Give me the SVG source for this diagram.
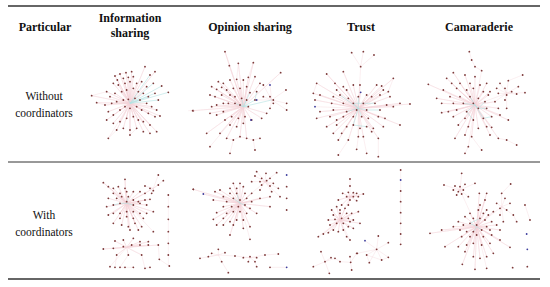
<svg xmlns="http://www.w3.org/2000/svg" width="550" height="287" viewBox="0 0 550 287">
<style>
.h{font-family:"Liberation Serif","DejaVu Serif",serif;font-weight:bold;font-size:12px;text-anchor:middle;fill:#111}
.r{font-family:"Liberation Serif","DejaVu Serif",serif;font-size:11.5px;text-anchor:middle;fill:#111}
.rule{stroke:#333;fill:none}
.pk{fill:none;stroke:#f3d2d9;stroke-width:1.1}
.cy{fill:none;stroke:#b3e2e2;stroke-width:1.8}
.fa{fill:none;stroke:#f4dde2;stroke-width:1.2}
.nd{fill:none;stroke:#7d3a3a;stroke-width:5.5;stroke-linecap:round}
.bl{fill:none;stroke:#3d3d9c;stroke-width:5.5;stroke-linecap:round}
</style>
<rect width="550" height="287" fill="#fff"/>
<g id="rules">
<line class="rule" x1="8" y1="6" x2="540" y2="6" stroke-width="1.5"/>
<line class="rule" x1="8" y1="162" x2="540" y2="162" stroke-width="1"/>
<line class="rule" x1="8" y1="279" x2="540" y2="279" stroke-width="1.5"/>
</g>
<g id="headers">
<text class="h" x="45" y="31">Particular</text>
<text class="h" x="130" y="22">Information</text>
<text class="h" x="130" y="36.5">sharing</text>
<text class="h" x="250" y="31">Opinion sharing</text>
<text class="h" x="361" y="31">Trust</text>
<text class="h" x="479" y="31">Camaraderie</text>
</g>
<g id="rowlabels">
<text class="r" x="44" y="100">Without</text>
<text class="r" x="44" y="117">coordinators</text>
<text class="r" x="44" y="219">With</text>
<text class="r" x="44" y="236">coordinators</text>
</g>

<g id="info-without" transform="translate(80,50) scale(0.3333)">
<path class="pk" d="M150 160L195 50L150 160L155 65L150 160L138 68L150 160L120 72L150 160L105 78L150 160L112 90L150 160L130 85L150 160L145 82L150 160L160 80L150 160L225 65L150 160L100 100L150 160L115 105L150 160L135 100L150 160L150 95L150 160L170 100L150 160L185 95L150 160L200 110L150 160L35 137L150 160L50 158L150 160L80 125L150 160L90 140L150 160L105 130L150 160L125 125L150 160L140 120L150 160L160 115L150 160L175 125L150 160L190 130L150 160L75 165L150 160L95 160L150 160L110 155L150 160L130 150L150 160L180 150L150 160L200 160L150 160L215 170L150 160L230 180L150 160L85 185L150 160L100 195L150 160L120 180L150 160L135 170L150 160L170 170L150 160L185 180L150 160L205 190L150 160L225 200L150 160L240 198L150 160L80 210L150 160L100 220L150 160L120 215L150 160L140 205L150 160L160 200L150 160L175 210L150 160L190 215L150 160L210 225L150 160L110 240L150 160L130 235L150 160L150 240L150 160L170 235L150 160L190 245L150 160L210 250L150 160L230 245L150 160L150 255L150 160L85 265M35 137L80 125M50 158L75 165M105 78L120 72L138 68M85 265L110 240M150 255L170 235M325 182L340 182"/>
<path class="cy" d="M150 160L245 108M150 160L265 127M150 160L225 130M150 160L235 150M150 160L220 100M150 160L210 75M150 160L205 140M150 160L165 145M150 160L145 148"/>
<path class="nd" d="M195 50h0M155 65h0M138 68h0M120 72h0M105 78h0M112 90h0M130 85h0M145 82h0M160 80h0M210 75h0M225 65h0M100 100h0M115 105h0M135 100h0M150 95h0M170 100h0M185 95h0M200 110h0M220 100h0M245 108h0M265 127h0M35 137h0M50 158h0M80 125h0M90 140h0M105 130h0M125 125h0M140 120h0M160 115h0M175 125h0M190 130h0M205 140h0M225 130h0M235 150h0M75 165h0M95 160h0M110 155h0M130 150h0M145 148h0M165 145h0M180 150h0M200 160h0M215 170h0M230 180h0M85 185h0M100 195h0M120 180h0M135 170h0M150 175h0M170 170h0M185 180h0M205 190h0M225 200h0M240 198h0M80 210h0M100 220h0M120 215h0M140 205h0M160 200h0M175 210h0M190 215h0M210 225h0M110 240h0M130 235h0M150 240h0M170 235h0M190 245h0M210 250h0M230 245h0M150 255h0M85 265h0M340 182h0"/>
</g>

<g id="opinion-without" transform="translate(190,50) scale(0.3333)">
<path class="pk" d="M160 170L105 5L160 170L145 40L160 170L118 47L160 170L190 38L160 170L272 68L160 170L85 95L160 170L100 100L160 170L120 90L160 170L140 88L160 170L160 90L160 170L175 82L160 170L195 80L160 170L210 100L160 170L65 110L160 170L80 118L160 170L95 112L160 170L110 120L160 170L130 115L160 170L150 115L160 170L170 110L160 170L60 135L160 170L75 140L160 170L95 135L160 170L120 135L160 170L8 182L160 170L65 170L160 170L80 165L160 170L100 160L160 170L115 160L160 170L60 190L160 170L80 195L160 170L100 185L160 170L125 200L160 170L145 205L160 170L165 200L160 170L185 210L160 170L215 205L160 170L230 190L160 170L105 210L160 170L120 225L160 170L140 230L160 170L160 220L160 170L50 250L160 170L90 250L160 170L110 265L160 170L150 260L160 170L170 265L160 170L60 290M245 150L288 120M245 150L290 160M245 150L240 175M245 150L290 180M245 150L250 160M245 150L240 140M245 150L220 140M245 150L220 105M245 150L240 105M245 150L200 150M110 265L130 270L150 260L170 265L190 270L210 265M195 300L190 270M120 310L130 270M105 5L118 47M145 40L140 88M190 38L175 82"/>
<path class="cy" d="M160 170L195 150L200 125M160 170L175 170M160 170L150 165M160 170L135 160M160 170L180 128M160 170L155 145M160 170L170 150M160 170L245 150"/>
<path class="nd" d="M105 5h0M145 40h0M118 47h0M190 38h0M272 68h0M85 95h0M100 100h0M120 90h0M140 88h0M160 90h0M175 82h0M195 80h0M210 100h0M220 105h0M65 110h0M80 118h0M95 112h0M110 120h0M130 115h0M150 115h0M170 110h0M180 128h0M200 125h0M60 135h0M75 140h0M95 135h0M120 135h0M135 140h0M155 145h0M170 150h0M195 150h0M220 140h0M240 140h0M250 150h0M288 120h0M290 160h0M240 175h0M290 180h0M8 182h0M65 170h0M80 165h0M100 160h0M115 160h0M135 160h0M150 165h0M175 170h0M250 160h0M60 190h0M80 195h0M100 185h0M125 200h0M145 205h0M165 200h0M185 210h0M215 205h0M230 190h0M105 210h0M120 225h0M140 230h0M160 220h0M50 250h0M90 250h0M110 265h0M130 270h0M150 260h0M170 265h0M190 270h0M210 265h0M195 300h0M120 310h0M60 290h0"/>
<path class="bl" d="M240 105h0M200 150h0M183 210h0"/>
</g>

<g id="trust-without" transform="translate(300,50) scale(0.3333)">
<path class="pk" d="M155 8L182 50L190 5M222 15L182 50L175 175L80 72L175 175L130 65L175 175L280 85L175 175L50 100L175 175L105 100L175 175L130 110L175 175L160 105L175 175L180 105L175 175L230 105L175 175L245 108L175 175L110 120L175 175L140 120L175 175L250 120L175 175L265 125L175 175L40 130L175 175L60 135L175 175L100 140L175 175L120 135L175 175L145 145L175 175L200 135L175 175L215 140L175 175L240 135L175 175L270 140L175 175L45 150L175 175L95 160L175 175L130 160L175 175L260 165L175 175L300 160L175 175L330 162L175 175L280 170L175 175L60 185L175 175L100 180L175 175L140 185L175 175L50 205L175 175L90 200L175 175L110 210L175 175L130 200L175 175L160 200L175 175L205 205L175 175L235 200L175 175L255 205L175 175L80 230L175 175L110 225L175 175L140 230L175 175L180 235L175 175L220 235L175 175L250 230L175 175L300 225L175 175L100 250L175 175L125 250L175 175L175 260L175 175L190 260L175 175L215 245L175 175L235 265L175 175L145 270L175 175L115 270L175 175L182 127L175 175L45 170M115 315L145 270M170 298L175 260M200 310L190 260M235 320L235 265M80 72L105 100M50 100L40 130M280 85L265 125"/>
<path class="cy" d="M175 175L160 160L190 160L225 160M175 175L200 180L240 180M175 175L170 180M175 175L160 225L200 230M175 175L185 200M175 175L175 140M175 175L120 135M175 175L140 185"/>
<path class="nd" d="M155 8h0M190 5h0M222 15h0M182 50h0M80 72h0M130 65h0M280 85h0M50 100h0M105 100h0M130 110h0M160 105h0M180 105h0M230 105h0M245 108h0M110 120h0M140 120h0M250 120h0M265 125h0M40 130h0M60 135h0M100 140h0M120 135h0M145 145h0M175 140h0M200 135h0M215 140h0M240 135h0M270 140h0M45 150h0M95 160h0M130 160h0M160 160h0M190 160h0M225 160h0M260 165h0M300 160h0M330 162h0M280 170h0M60 185h0M100 180h0M140 185h0M170 180h0M200 180h0M240 180h0M50 205h0M90 200h0M110 210h0M130 200h0M160 200h0M185 200h0M205 205h0M235 200h0M255 205h0M80 230h0M110 225h0M140 230h0M160 225h0M180 235h0M200 230h0M220 235h0M250 230h0M300 225h0M100 250h0M125 250h0M175 260h0M190 260h0M215 245h0M235 265h0M145 270h0M115 315h0M170 298h0M200 310h0M235 320h0M115 270h0"/>
<path class="bl" d="M182 127h0M45 170h0"/>
</g>

<g id="camaraderie-without" transform="translate(420,50) scale(0.3333)">
<path class="pk" d="M148 5L155 30L165 50L185 62L165 165L100 68L165 165L135 75L165 165L80 85L165 165L165 80L165 165L25 103L165 165L95 100L165 165L120 100L165 165L150 100L165 165L180 105L165 165L200 100L165 165L70 120L165 165L110 115L165 165L140 120L165 165L160 115L165 165L190 125L165 165L210 125L165 165L50 145L165 165L90 140L165 165L120 140L165 165L150 140L165 165L175 145L165 165L205 135L165 165L65 160L165 165L100 160L165 165L130 160L165 165L195 155L165 165L225 155L165 165L85 185L165 165L110 180L165 165L140 185L165 165L200 175L165 165L235 175L165 165L65 188L165 165L100 200L165 165L135 205L165 165L160 210L165 165L190 205L165 165L215 200L165 165L240 195L165 165L265 210L165 165L115 225L165 165L145 230L165 165L175 235L165 165L200 230L165 165L215 232L165 165L105 265L165 165L135 255L165 165L155 260L165 165L210 255L165 165L235 265L165 165L145 290L135 310M155 260L185 300M235 265L260 270L290 285M210 255L215 252M260 130L240 100M260 130L265 92L308 75M260 130L295 110M260 130L315 128M260 130L230 115M260 130L255 115M260 130L275 125M260 130L235 130M260 130L290 132M260 130L255 150M260 130L260 175M260 130L225 155M260 130L165 165"/>
<path class="cy" d="M165 165L160 160L175 175L195 155M165 165L130 160M165 165L175 175L200 175M165 165L150 140M165 165L140 185L160 210M165 165L190 205L215 200"/>
<path class="nd" d="M148 5h0M155 30h0M165 50h0M185 62h0M100 68h0M135 75h0M80 85h0M165 80h0M25 103h0M95 100h0M120 100h0M150 100h0M180 105h0M200 100h0M240 100h0M265 92h0M308 75h0M295 110h0M315 128h0M70 120h0M110 115h0M140 120h0M160 115h0M190 125h0M210 125h0M230 115h0M255 115h0M275 125h0M50 145h0M90 140h0M120 140h0M150 140h0M175 145h0M205 135h0M235 130h0M260 135h0M290 132h0M65 160h0M100 160h0M130 160h0M160 160h0M195 155h0M225 155h0M255 150h0M85 185h0M110 180h0M140 185h0M175 175h0M200 175h0M235 175h0M260 175h0M65 188h0M100 200h0M135 205h0M160 210h0M190 205h0M215 200h0M240 195h0M265 210h0M115 225h0M145 230h0M175 235h0M200 230h0M215 232h0M105 265h0M135 255h0M155 260h0M210 255h0M235 265h0M260 270h0M290 285h0M145 290h0M135 310h0M185 300h0"/>
</g>

<g id="info-with" transform="translate(80,160) scale(0.3333)">
<path class="pk" d="M140 130L135 58L140 130L70 68L140 130L85 80L140 130L100 85L140 130L115 80L140 130L135 85L140 130L100 100L140 130L120 100L140 130L140 95L140 130L160 95L140 130L180 95L140 130L195 100L140 130L85 115L140 130L110 115L140 130L125 110L140 130L145 110L140 130L160 120L140 130L175 125L140 130L195 120L140 130L210 118L140 130L80 140L140 130L100 135L140 130L120 130L140 130L160 135L140 130L180 130L140 130L200 135L140 130L220 155L140 130L85 165L140 130L100 160L140 130L120 160L140 130L140 155L140 130L160 155L140 130L180 160L140 130L200 160L140 130L120 175L140 130L140 170L140 130L160 175L140 130L190 175L140 130L100 190L140 130L125 195L140 130L145 200L140 130L165 190L140 130L185 200L140 130L150 210L140 130L175 210L140 130L220 215M220 85L235 45M220 85L250 62M220 85L235 75M220 85L195 78M220 85L210 85M220 85L220 92M220 85L215 100M220 85L195 100M220 85L140 130M140 262L105 243L140 262L130 240L140 262L160 235L140 262L180 245L140 262L205 245L140 262L70 267L140 262L100 265L140 262L130 260L140 262L155 255L140 262L180 255L140 262L205 255L140 262L235 255L140 262L110 285L140 262L145 285L140 262L185 285L140 262L90 320M110 285L105 322M145 285L120 322L135 322L160 322M185 285L195 325L210 322M238 298L235 255M238 298L268 318M70 68L85 80M135 58L135 85"/>
<path class="fa" d="M265 105L265 318"/>
<path class="cy" d="M140 130L120 130L100 135M140 130L160 135M140 130L145 110"/>
<path class="nd" d="M135 58h0M235 45h0M70 68h0M250 62h0M235 75h0M85 80h0M100 85h0M115 80h0M135 85h0M195 78h0M210 85h0M220 92h0M100 100h0M120 100h0M140 95h0M160 95h0M180 95h0M195 100h0M215 100h0M265 105h0M85 115h0M110 115h0M125 110h0M145 110h0M160 120h0M175 125h0M195 120h0M210 118h0M80 140h0M100 135h0M120 130h0M140 125h0M160 135h0M180 130h0M200 135h0M220 155h0M265 140h0M85 165h0M100 160h0M120 160h0M140 155h0M160 155h0M180 160h0M200 160h0M120 175h0M140 170h0M160 175h0M190 175h0M265 178h0M100 190h0M125 195h0M145 200h0M165 190h0M185 200h0M150 210h0M175 210h0M220 215h0M265 215h0M105 243h0M130 240h0M160 235h0M180 245h0M205 245h0M70 267h0M100 265h0M130 260h0M155 255h0M180 255h0M205 255h0M235 255h0M265 250h0M110 285h0M145 285h0M185 285h0M265 285h0M90 320h0M105 322h0M120 322h0M135 322h0M160 322h0M195 325h0M210 322h0M238 298h0M268 318h0M340 88h0"/>
</g>

<g id="opinion-with" transform="translate(190,160) scale(0.3333)">
<path class="pk" d="M150 130L10 88L150 130L40 102L150 130L75 95L150 130L90 90L150 130L130 70L150 130L150 70L150 130L120 85L150 130L140 85L150 130L160 80L150 130L100 110L150 130L120 100L150 130L140 100L150 130L165 100L150 130L185 100L150 130L70 120L150 130L110 125L150 130L130 115L150 130L170 115L150 130L185 125L150 130L210 115L150 130L240 110L150 130L100 140L150 130L125 140L150 130L145 140L150 130L165 135L150 130L180 145L150 130L240 140L150 130L80 158L150 130L110 160L150 130L130 155L150 130L150 155L150 130L170 160L150 130L200 160L150 130L70 178L150 130L100 175L150 130L120 185L150 130L140 180L150 130L160 180L150 130L80 195L150 130L100 195L150 130L130 195L150 130L160 205L150 130L180 200L150 130L120 225L150 130L180 238M225 65L200 35M225 65L228 40M225 65L260 38M225 65L195 48M225 65L215 55M225 65L240 55M225 65L185 65M225 65L210 65M225 65L230 62M225 65L250 70M225 65L215 75M225 65L240 78M225 65L265 85M225 65L210 90M225 65L245 95M225 65L150 130M225 65L270 110M85 285L30 295M85 285L55 290M85 285L65 280M85 285L85 268M85 285L105 278M85 285L95 305L115 338M85 285L135 288M180 293L135 288M180 293L160 293M180 293L200 293M180 293L225 285L265 282M180 293L175 305M180 293L195 305L200 320M180 293L180 290M240 322L290 322"/>
<path class="cy" d="M150 130L140 100M150 130L130 115M150 130L165 135"/>
<path class="nd" d="M200 35h0M228 40h0M260 38h0M195 48h0M215 55h0M240 55h0M185 65h0M210 65h0M230 62h0M250 70h0M290 80h0M10 88h0M75 95h0M90 90h0M130 70h0M150 70h0M120 85h0M140 85h0M160 80h0M215 75h0M240 78h0M265 85h0M100 110h0M120 100h0M140 100h0M165 100h0M185 100h0M210 90h0M245 95h0M270 110h0M290 115h0M70 120h0M110 125h0M130 115h0M150 120h0M170 115h0M185 125h0M210 115h0M240 110h0M100 140h0M125 140h0M145 140h0M165 135h0M180 145h0M240 140h0M290 150h0M80 158h0M110 160h0M130 155h0M150 155h0M170 160h0M200 160h0M70 178h0M100 175h0M120 185h0M140 180h0M160 180h0M80 195h0M100 195h0M130 195h0M160 205h0M180 200h0M120 225h0M180 238h0M30 295h0M55 290h0M65 280h0M85 268h0M105 278h0M95 305h0M115 338h0M135 288h0M160 293h0M180 290h0M200 293h0M225 285h0M265 282h0M175 305h0M195 305h0M200 320h0M240 322h0"/>
<path class="bl" d="M290 45h0M40 102h0M290 322h0"/>
</g>

<g id="trust-with" transform="translate(300,160) scale(0.3333)">
<path class="pk" d="M150 57L150 78L150 110L128 100L150 110L145 97L150 110L160 98L150 110L170 100L150 110L190 102L150 110L140 110L150 110L160 110L150 110L175 110L150 110L150 120L150 110L170 122L150 110L115 120L150 110L125 135L150 110L145 135L150 110L120 180L110 140L120 180L95 150L120 180L120 150L120 180L135 145L120 180L100 165L120 180L120 160L120 180L140 160L120 180L155 160L120 180L175 155L120 180L85 180L120 180L105 178L120 180L125 175L120 180L145 175L120 180L160 180L120 180L180 190L120 180L90 195L120 180L110 190L120 180L130 190L120 180L150 185L120 180L100 210L120 180L115 215L120 180L130 210L120 180L145 200L120 180L160 205L120 180L70 222L120 180L85 218L120 180L140 230L150 240L120 180L55 230M230 268L195 242M230 268L235 228M230 268L265 248M230 268L200 285M230 268L245 300M230 268L265 292M230 268L208 308M230 268L172 280M200 285L208 308M245 300L265 292M200 285L245 300M75 305L63 275M75 305L93 293M75 305L40 320M75 305L88 340M75 305L105 295L120 305L152 307L170 280M152 307L155 330M152 307L150 290"/>
<path class="fa" d="M302 30L302 253"/>
<path class="nd" d="M150 57h0M150 78h0M128 100h0M145 97h0M160 98h0M170 100h0M190 102h0M140 110h0M160 110h0M175 110h0M150 120h0M170 122h0M115 120h0M110 140h0M125 135h0M145 135h0M95 150h0M120 150h0M135 145h0M100 165h0M120 160h0M140 160h0M155 160h0M175 155h0M85 180h0M105 178h0M125 175h0M145 175h0M160 180h0M180 190h0M90 195h0M110 190h0M130 190h0M150 185h0M100 210h0M115 215h0M130 210h0M145 200h0M160 205h0M70 222h0M85 218h0M140 230h0M150 240h0M55 230h0M302 30h0M302 93h0M302 125h0M302 158h0M302 190h0M302 222h0M302 253h0M235 228h0M265 248h0M230 268h0M200 285h0M245 300h0M265 292h0M208 308h0M172 280h0M63 275h0M93 293h0M75 305h0M40 320h0M88 340h0M105 295h0M120 305h0M152 307h0M170 280h0M155 330h0M150 290h0"/>
<path class="bl" d="M302 60h0M195 242h0"/>
</g>

<g id="camaraderie-with" transform="translate(420,160) scale(0.3333)">
<path class="pk" d="M120 90L125 40M120 90L72 75M120 90L105 78M120 90L120 80M120 90L135 73M120 90L165 70M120 90L100 90M120 90L115 95M120 90L130 90M120 90L110 105M120 90L125 102M120 90L145 110M120 90L170 200M170 200L178 100L170 200L200 100L170 200L180 135L170 200L195 120L170 200L200 150L170 200L150 160L170 200L175 150L170 200L190 160L170 200L205 165L170 200L220 155L170 200L135 170L170 200L160 175L170 200L180 175L170 200L195 180L170 200L215 185L170 200L115 185L170 200L100 200L170 200L130 195L170 200L150 190L170 200L200 200L170 200L230 195L170 200L30 220L170 200L65 210L170 200L120 210L170 200L140 215L170 200L160 215L170 200L185 210L170 200L210 210L170 200L240 210L170 200L125 230L170 200L150 230L170 200L170 225L170 200L190 230L170 200L215 225L170 200L240 240L170 200L75 260L170 200L115 260L170 200L140 255L170 200L160 250L170 200L185 255L170 200L210 250L170 200L270 262L170 200L135 275L170 200L160 290L170 200L180 295L170 200L200 290L170 200L220 280L170 200L127 313L170 200L165 328L170 200L200 325M245 140L245 100L272 72M245 140L255 115M245 140L270 130M245 140L230 130M245 140L240 145M245 140L260 150M245 140L240 165M245 140L280 165L290 185M245 140L250 185M245 140L170 200M315 135L330 180"/>
<path class="cy" d="M170 200L150 190L180 175M170 200L160 215M170 200L185 210"/>
<path class="nd" d="M125 40h0M72 75h0M105 78h0M120 80h0M135 73h0M165 70h0M272 72h0M100 90h0M115 95h0M130 90h0M110 105h0M125 102h0M145 110h0M178 100h0M200 100h0M245 100h0M255 115h0M270 130h0M315 135h0M180 135h0M195 120h0M200 150h0M230 130h0M240 145h0M260 150h0M150 160h0M175 150h0M190 160h0M205 165h0M220 155h0M240 165h0M280 165h0M290 185h0M330 180h0M135 170h0M160 175h0M180 175h0M195 180h0M215 185h0M250 185h0M115 185h0M100 200h0M130 195h0M150 190h0M170 195h0M200 200h0M230 195h0M30 220h0M65 210h0M120 210h0M140 215h0M160 215h0M185 210h0M210 210h0M240 210h0M125 230h0M150 230h0M170 225h0M190 230h0M215 225h0M240 240h0M75 260h0M115 260h0M140 255h0M160 250h0M185 255h0M210 250h0M270 262h0M135 275h0M160 290h0M180 295h0M200 290h0M220 280h0M127 313h0M165 328h0M200 325h0M278 323h0M322 320h0"/>
<path class="bl" d="M320 222h0M322 268h0"/>
</g>
</svg>
